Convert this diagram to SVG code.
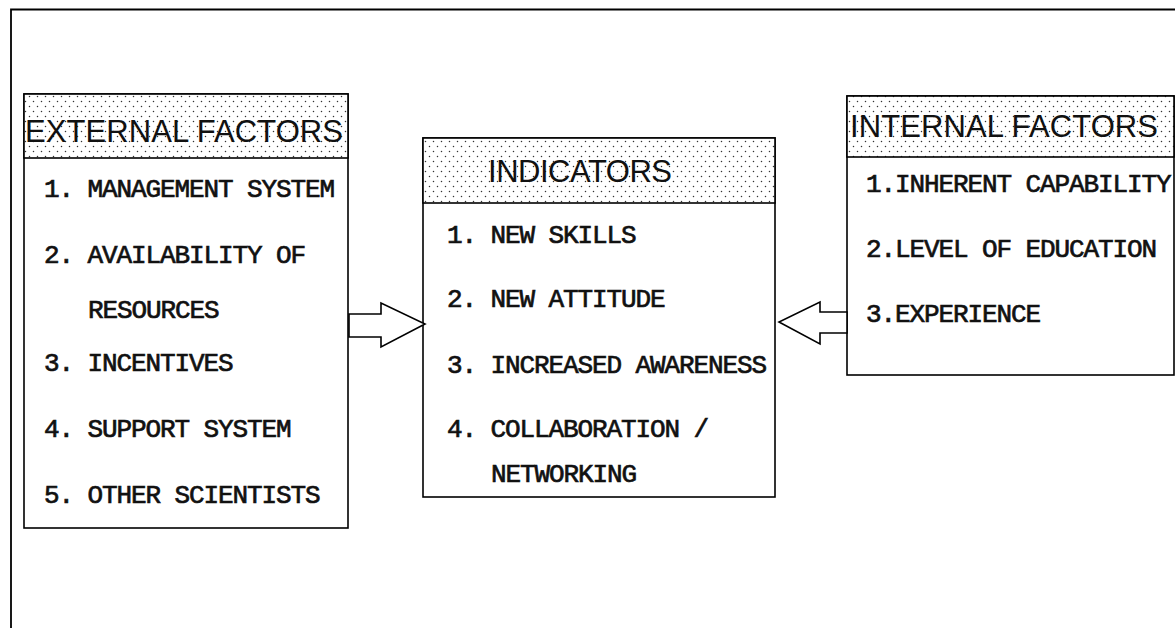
<svg xmlns="http://www.w3.org/2000/svg" width="1175" height="628" viewBox="0 0 1175 628">
<style>
.box{fill:#fff;stroke:#000;stroke-width:1.6}
.hdr{fill:url(#dots);stroke:#000;stroke-width:1.6}
.ht{font-family:"Liberation Sans",Arial,sans-serif;font-size:31px;fill:#111}
.it{font-family:"Liberation Mono","Courier New",monospace;font-size:26px;letter-spacing:-1.1px;fill:#111;stroke:#111;stroke-width:0.7}
.arrow{fill:#fff;stroke:#000;stroke-width:1.6;stroke-linejoin:miter}
.frame{fill:none;stroke:#000;stroke-width:1.8}
</style>
<defs>
<pattern id="dots" width="8" height="10" patternUnits="userSpaceOnUse">
<rect width="8" height="10" fill="#fff"/>
<circle cx="1.5" cy="1.5" r="0.75" fill="#333"/>
<circle cx="5.5" cy="6.5" r="0.75" fill="#333"/>
</pattern>
</defs>
<rect width="1175" height="628" fill="#fff"/>
<polyline class="frame" points="11,628 11,9.5 1175,9.5"/>
<g id="external">
<rect class="box" x="24" y="94" width="324" height="434"/>
<rect class="hdr" x="24" y="94" width="324" height="64"/>
<text class="ht" x="25" y="142" textLength="318" lengthAdjust="spacing">EXTERNAL FACTORS</text>
<text class="it" x="44" y="197">1. MANAGEMENT SYSTEM</text>
<text class="it" x="44" y="263">2. AVAILABILITY OF</text>
<text class="it" x="88" y="318">RESOURCES</text>
<text class="it" x="44" y="371">3. INCENTIVES</text>
<text class="it" x="44" y="437">4. SUPPORT SYSTEM</text>
<text class="it" x="44" y="503">5. OTHER SCIENTISTS</text>
</g>
<g id="indicators">
<rect class="box" x="423" y="138" width="352" height="359"/>
<rect class="hdr" x="423" y="138" width="352" height="65"/>
<text class="ht" x="488" y="182" textLength="184" lengthAdjust="spacing">INDICATORS</text>
<text class="it" x="447" y="243">1. NEW SKILLS</text>
<text class="it" x="447" y="307">2. NEW ATTITUDE</text>
<text class="it" x="447" y="373">3. INCREASED AWARENESS</text>
<text class="it" x="447" y="437">4. COLLABORATION /</text>
<text class="it" x="491" y="482">NETWORKING</text>
</g>
<g id="internal">
<rect class="box" x="847" y="96" width="327" height="279"/>
<rect class="hdr" x="847" y="96" width="327" height="61"/>
<text class="ht" x="850" y="137" textLength="308" lengthAdjust="spacing">INTERNAL FACTORS</text>
<text class="it" x="866" y="192">1.INHERENT CAPABILITY</text>
<text class="it" x="866" y="257">2.LEVEL OF EDUCATION</text>
<text class="it" x="866" y="322">3.EXPERIENCE</text>
</g>
<g id="connectors">
<polygon class="arrow" points="349,314 381,314 381,303 425,324 381,347 381,337 349,337"/>
<polygon class="arrow" points="847,312 820,312 820,302 779,322 820,344 820,333 847,333"/>
</g>
</svg>
